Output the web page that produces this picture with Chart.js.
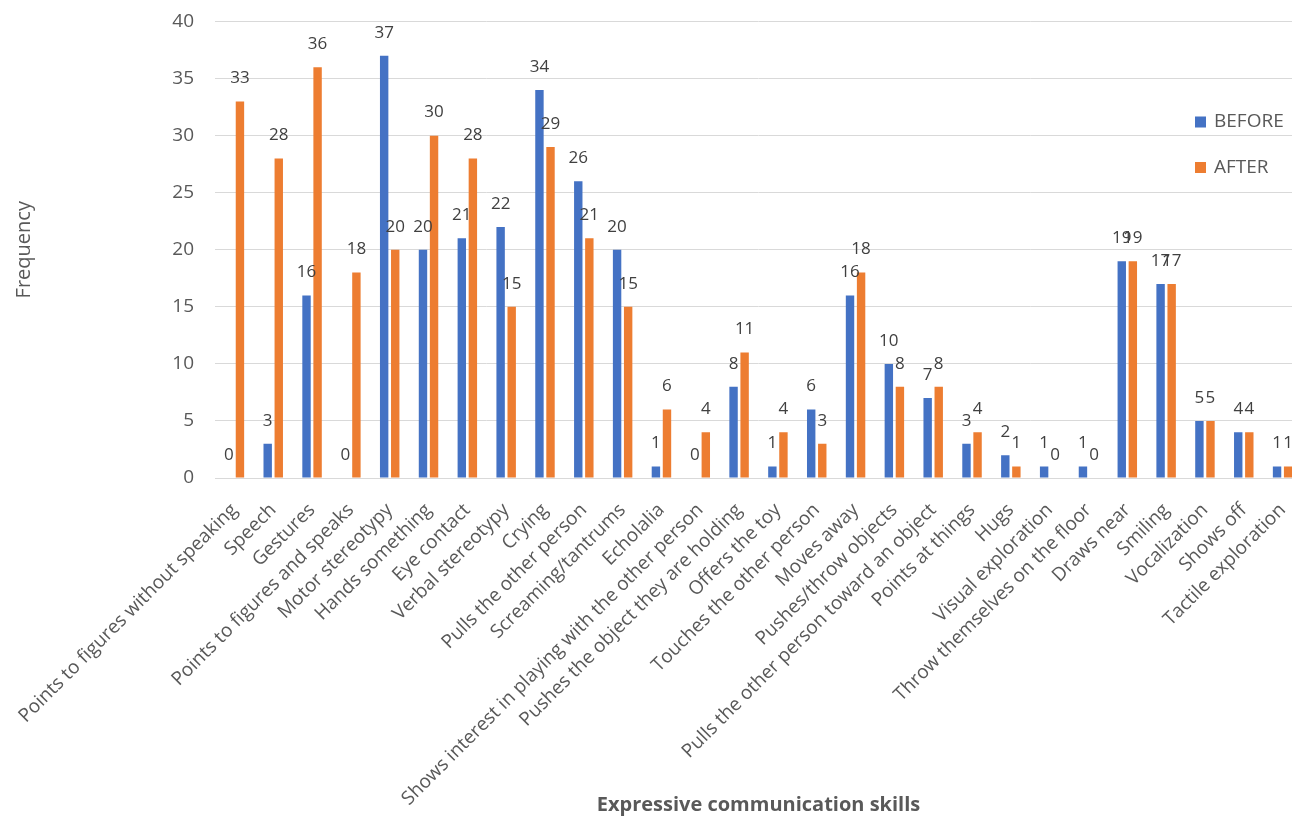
<!DOCTYPE html>
<html>
<head>
<meta charset="utf-8">
<script src="https://cdn.jsdelivr.net/npm/chart.js@4.4.1/dist/chart.umd.min.js"></script>
<style>
  html, body { margin: 0; padding: 0; background: #fff; overflow: hidden; }
  #wrap { width: 1292px; height: 819px; overflow: hidden; }
</style>
</head>
<body>
<div id="wrap"><canvas id="chart" width="1302" height="819"></canvas></div>
<script>
// data
var categories = [
  "Points to figures without speaking", "Speech", "Gestures", "Points to figures and speaks",
  "Motor stereotypy", "Hands something", "Eye contact", "Verbal stereotypy", "Crying",
  "Pulls the other person", "Screaming/tantrums", "Echolalia",
  "Shows interest in playing with the other person", "Pushes the object they are holding",
  "Offers the toy", "Touches the other person", "Moves away", "Pushes/throw objects",
  "Pulls the other person toward an object", "Points at things", "Hugs", "Visual exploration",
  "Throw themselves on the floor", "Draws near", "Smiling", "Vocalization", "Shows off",
  "Tactile exploration"
];
var before = [0, 3, 16, 0, 37, 20, 21, 22, 34, 26, 20, 1, 0, 8, 1, 6, 16, 10, 7, 3, 2, 1, 1, 19, 17, 5, 4, 1];
var after  = [33, 28, 36, 18, 20, 30, 28, 15, 29, 21, 15, 6, 4, 11, 4, 3, 18, 8, 8, 4, 1, 0, 0, 19, 17, 5, 4, 1];
var yTicks = [0, 5, 10, 15, 20, 25, 30, 35, 40];
var xTitle = "Expressive communication skills";
var yTitle = "Frequency";

var gray = '#595959';
Chart.defaults.font.family = '"Open Sans", sans-serif';

// value above each bar
var barValues = {
  id: 'barValues',
  afterDatasetsDraw: function(chart) {
    var ctx = chart.ctx;
    ctx.save();
    ctx.font = '17px "Open Sans"';
    ctx.fillStyle = '#404040';
    ctx.textAlign = 'center';
    ctx.textBaseline = 'middle';
    chart.data.datasets.forEach(function(ds, i) {
      chart.getDatasetMeta(i).data.forEach(function(bar, j) {
        ctx.fillText(ds.data[j], bar.x, bar.y - 23);
      });
    });
    ctx.restore();
  }
};

// legend sits inside the plot on the right
var sideLegend = {
  id: 'sideLegend',
  afterDraw: function(chart) {
    var ctx = chart.ctx;
    ctx.save();
    ctx.font = '19px "Open Sans"';
    ctx.textBaseline = 'middle';
    chart.data.datasets.forEach(function(ds, i) {
      var y = 122 + i * 45.5;
      ctx.fillStyle = ds.backgroundColor;
      ctx.fillRect(1195, y - 5.5, 11, 11);
      ctx.fillStyle = gray;
      ctx.fillText(ds.label, 1214, y);
    });
    ctx.restore();
  }
};

new Chart(document.getElementById('chart').getContext('2d'), {
  type: 'bar',
  data: {
    labels: categories,
    datasets: [
      { label: 'BEFORE', data: before, backgroundColor: '#4472C4' },
      { label: 'AFTER', data: after, backgroundColor: '#ED7D31' }
    ]
  },
  options: {
    responsive: false,
    animation: false,
    devicePixelRatio: 1,
    categoryPercentage: 0.57,
    barPercentage: 0.76,
    layout: { padding: { top: 21.5, right: 0, bottom: 0, left: 0 } },
    plugins: {
      legend: { display: false },
      tooltip: { enabled: false }
    },
    scales: {
      x: {
        afterFit: function(scale) {
          scale.height = 341;
          scale.paddingLeft = 0;
          scale.paddingRight = 0;
        },
        grid: { display: false },
        border: { display: true, color: '#d9d9d9' },
        ticks: {
          autoSkip: false, maxRotation: 45, minRotation: 45,
          padding: 13, color: gray, font: { size: 19 }
        },
        title: {
          display: true, text: xTitle, color: gray,
          font: { size: 20, weight: 'bold' }, padding: { top: 0, bottom: 2 }
        }
      },
      y: {
        min: 0, max: 40,
        afterFit: function(scale) {
          scale.width = 215;
          scale.paddingTop = 0;
          scale.paddingBottom = 0;
        },
        afterBuildTicks: function(scale) {
          scale.ticks = yTicks.map(function(v) { return { value: v }; });
        },
        grid: { color: '#d9d9d9', drawTicks: false },
        border: { display: false },
        ticks: { padding: 21, color: gray, font: { size: 19 } },
        title: {
          display: true, text: yTitle, color: gray,
          font: { size: 20 }, padding: { top: 12, bottom: 0 }
        }
      }
    }
  },
  plugins: [barValues, sideLegend]
});
</script>
</body>
</html>
